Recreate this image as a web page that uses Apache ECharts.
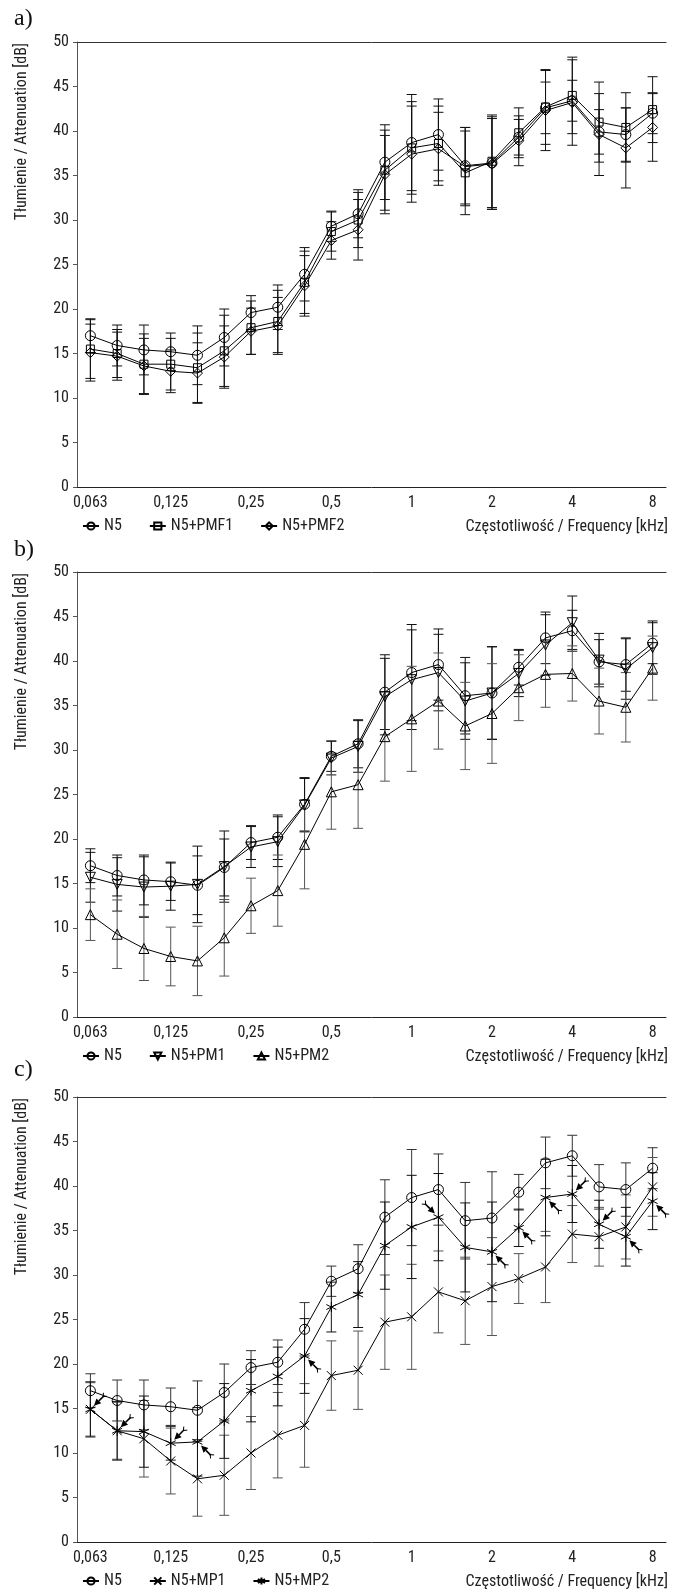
<!DOCTYPE html>
<html>
<head>
    <meta charset="utf-8">
    <title>Tłumienie / Attenuation</title>
    <script src="https://cdn.jsdelivr.net/npm/echarts@6/dist/echarts.min.js"></script>
    <style>
        html, body { margin: 0; padding: 0; background: #fff; }
        #chart { width: 676px; height: 1593px; }
    </style>
</head>
<body>
<div id="chart"></div>
<script>
    // 1/3-octave bands [kHz]; labels shown only at octaves
    var freqs = ['0,063', '0,08', '0,1', '0,125', '0,16', '0,2', '0,25', '0,315', '0,4', '0,5', '0,63',
        '0,8', '1', '1,25', '1,6', '2', '2,5', '3,15', '4', '5', '6,3', '8'];
    var tickIdx = [0, 3, 6, 9, 12, 15, 18, 21];

    // N5 (same in all three panels)
    var n5 = [17.0, 15.9, 15.4, 15.2, 14.8, 16.8, 19.6, 20.2, 23.9, 29.3, 30.7, 36.5, 38.7, 39.6, 36.1, 36.4, 39.3, 42.6, 43.4, 39.9, 39.6, 42.0];
    var n5Err = [1.9, 2.3, 2.8, 2.1, 3.3, 3.2, 1.9, 2.5, 3.0, 1.7, 2.7, 4.2, 5.4, 4.0, 4.3, 5.2, 2.0, 2.9, 2.3, 2.5, 3.0, 2.3];

    // a)
    var pmf1 = [15.5, 15.0, 13.8, 13.8, 13.4, 15.3, 17.9, 18.6, 23.0, 28.7, 30.0, 35.6, 38.1, 38.6, 35.3, 36.6, 39.8, 42.7, 44.0, 41.0, 40.4, 42.4];
    var pmf1Err = [3.3, 2.7, 3.4, 2.9, 3.9, 4.0, 3.0, 3.5, 3.5, 2.2, 3.1, 4.5, 5.2, 4.2, 4.7, 5.2, 2.8, 4.2, 4.3, 4.5, 3.9, 3.7];
    var pmf2 = [15.1, 14.7, 13.6, 13.0, 12.8, 14.6, 17.5, 18.1, 22.6, 27.7, 28.9, 35.1, 37.4, 38.0, 36.0, 36.3, 38.9, 42.3, 43.2, 39.6, 38.1, 40.4];
    var pmf2Err = [3.2, 2.7, 3.1, 2.4, 3.4, 3.5, 2.6, 3.2, 3.4, 2.1, 3.4, 4.4, 5.4, 4.1, 4.4, 5.1, 2.8, 4.5, 4.8, 4.6, 4.5, 3.8];

    // b)
    var pm1 = [15.7, 14.9, 14.6, 14.7, 14.9, 16.9, 19.1, 19.7, 23.8, 29.1, 30.4, 36.0, 37.9, 38.7, 35.5, 36.4, 38.6, 41.8, 44.3, 40.1, 39.1, 41.5];
    var pm1Err = [2.8, 3.0, 3.4, 2.7, 4.3, 4.0, 2.3, 2.8, 3.0, 1.9, 2.9, 4.3, 5.6, 4.3, 4.3, 5.2, 2.6, 3.4, 3.0, 3.0, 3.4, 3.0];
    var pm2 = [11.5, 9.3, 7.7, 6.8, 6.3, 8.9, 12.5, 14.2, 19.4, 25.3, 26.1, 31.5, 33.5, 35.5, 32.7, 34.1, 37.0, 38.5, 38.6, 35.5, 34.8, 39.2];
    var pm2Err = [2.9, 3.85, 3.6, 3.3, 3.9, 4.3, 3.1, 4.0, 5.0, 4.2, 4.9, 5.0, 5.9, 5.4, 4.9, 5.6, 3.7, 3.7, 3.1, 3.7, 3.9, 3.6];

    // c)
    var mp1 = [14.9, 12.5, 11.6, 9.1, 7.1, 7.5, 10.0, 12.0, 13.1, 18.7, 19.3, 24.7, 25.3, 28.1, 27.1, 28.7, 29.6, 30.9, 34.6, 34.3, 35.4, 39.9];
    var mp1Err = [3.0, 3.2, 4.3, 3.7, 4.2, 4.5, 4.1, 4.8, 4.7, 3.9, 4.4, 5.3, 5.9, 4.6, 4.9, 5.5, 2.8, 4.0, 3.2, 3.3, 3.6, 3.3];
    var mp2 = [14.9, 12.5, 12.4, 11.1, 11.25, 13.6, 17.0, 18.6, 20.9, 26.4, 27.8, 33.3, 35.4, 36.5, 33.1, 32.6, 35.3, 38.7, 39.1, 35.7, 34.3, 38.3];
    var mp2Err = [3.1, 3.3, 4.0, 1.9, 3.85, 4.2, 3.5, 3.3, 4.2, 2.8, 3.7, 4.9, 5.8, 4.9, 5.0, 5.6, 2.1, 4.3, 3.2, 2.7, 3.3, 3.2];
    // points of N5+MP2 marked with an arrow
    var arrowIdx = [0, 1, 3, 4, 8, 13, 15, 16, 17, 18, 19, 20, 21];

    var NARROW = 'Liberation Sans Narrow, Roboto Condensed, DejaVu Sans Condensed, sans-serif';
    var SERIF = 'Liberation Serif, DejaVu Serif, serif';
    var gridTops = [42, 572, 1097];
    var gridH = 445;

    var chart = echarts.init(document.getElementById('chart'));

    var SYM_X = 'path://M0,0L10,10M10,0L0,10';
    var SYM_STAR = 'path://M5,0L5,10M0.7,2.5L9.3,7.5M9.3,2.5L0.7,7.5';

    function lineSeries(name, vals, k, symbol, size, rotate) {
        return {
            type: 'line', name: name, xAxisIndex: 2 * k, yAxisIndex: k, z: 3,
            data: vals.slice(),
            symbol: symbol, symbolSize: size, symbolRotate: rotate || 0, showSymbol: true,
            lineStyle: {color: '#000', width: 1},
            itemStyle: {color: 'rgba(255,255,255,0)', borderColor: '#000', borderWidth: 1}
        };
    }

    function errSeries(vals, errs, k, color) {
        return {
            type: 'custom', xAxisIndex: 2 * k, yAxisIndex: k, z: 2, silent: true,
            data: vals.map(function (v, i) { return [i, v - errs[i], v + errs[i]]; }),
            renderItem: function (params, api) {
                var x = api.value(0);
                var lo = api.coord([x, api.value(1)]);
                var hi = api.coord([x, api.value(2)]);
                var w = 5;
                return {
                    type: 'group', children: [
                        {type: 'line', shape: {x1: lo[0], y1: lo[1], x2: hi[0], y2: hi[1]}, style: {stroke: color, lineWidth: 1}},
                        {type: 'line', shape: {x1: lo[0] - w, y1: lo[1], x2: lo[0] + w, y2: lo[1]}, style: {stroke: color, lineWidth: 1}},
                        {type: 'line', shape: {x1: hi[0] - w, y1: hi[1], x2: hi[0] + w, y2: hi[1]}, style: {stroke: color, lineWidth: 1}}
                    ]
                };
            }
        };
    }

    // arrow tail direction from the marker
    var arrowDir = {0: 'ne', 1: 'ne', 3: 'ne', 4: 'se', 8: 'se', 13: 'nw', 15: 'se', 16: 'se',
        17: 'se', 18: 'ne', 19: 'ne', 20: 'se', 21: 'se'};
    var dirVec = {ne: [1, -1], se: [1, 1], nw: [-1, -1]};

    function arrowSeries(k) {
        return {
            type: 'custom', xAxisIndex: 2 * k, yAxisIndex: k, z: 4, silent: true,
            data: arrowIdx.map(function (i) { return [i, mp2[i]]; }),
            renderItem: function (params, api) {
                var i = api.value(0);
                var p = api.coord([i, api.value(1)]);
                var d = dirVec[arrowDir[i]];
                var ux = d[0] / Math.SQRT2, uy = d[1] / Math.SQRT2;
                var nx = -uy, ny = ux;
                var bx = p[0] + ux * 12, by = p[1] + uy * 12;
                var tx = p[0] + ux * 19, ty = p[1] + uy * 19;
                return {
                    type: 'group', children: [
                        {type: 'line', shape: {x1: tx, y1: ty, x2: bx, y2: by}, style: {stroke: '#000', lineWidth: 1.6}},
                        {type: 'polygon', shape: {points: [[p[0] + ux * 5, p[1] + uy * 5],
                                [bx + nx * 3.4, by + ny * 3.4], [bx - nx * 3.4, by - ny * 3.4]]},
                            style: {fill: '#000'}},
                        {type: 'line', shape: {x1: tx + nx * 2.5 + ux * 2, y1: ty + ny * 2.5 + uy * 2, x2: tx - ux, y2: ty - uy},
                            style: {stroke: '#000', lineWidth: 1}},
                        {type: 'line', shape: {x1: tx - nx * 2.5 + ux * 2, y1: ty - ny * 2.5 + uy * 2, x2: tx - ux, y2: ty - uy},
                            style: {stroke: '#000', lineWidth: 1}}
                    ]
                };
            }
        };
    }

    var grids = [], xAxes = [], yAxes = [], legends = [], graphics = [];
    var panelNames = [['N5', 'N5+PMF1', 'N5+PMF2'], ['N5', 'N5+PM1', 'N5+PM2'], ['N5', 'N5+MP1', 'N5+MP2']];
    var panelTags = ['a)', 'b)', 'c)'];
    var tagY = [19, 550, 1070];

    for (var k = 0; k < 3; k++) {
        var gTop = gridTops[k];
        grids.push({left: 77, width: 589, top: gTop, height: gridH});
        xAxes.push({
            type: 'category', gridIndex: k, position: 'bottom', data: freqs,
            axisLine: {lineStyle: {color: '#222'}},
            axisTick: {alignWithLabel: true, interval: 0, length: 4, lineStyle: {color: '#222'}},
            axisLabel: {interval: 0, margin: 8, fontSize: 16, color: '#222',
                formatter: function (v, idx) { return tickIdx.indexOf(idx) >= 0 ? v : ''; }}
        });
        xAxes.push({
            type: 'category', gridIndex: k, position: 'top', data: freqs,
            axisLine: {lineStyle: {color: '#333'}},
            axisTick: {show: false}, axisLabel: {show: false}
        });
        yAxes.push({
            type: 'value', gridIndex: k, min: 0, max: 50, interval: 5,
            axisLine: {show: true, lineStyle: {color: '#555'}},
            axisTick: {show: true, length: 4, lineStyle: {color: '#555'}},
            axisLabel: {margin: 8, fontSize: 16, color: '#222'},
            splitLine: {show: false}
        });
        legends.push({
            top: gTop + gridH + 26, left: 77, itemWidth: 16, itemHeight: 9, itemGap: 27,
            selectedMode: false, data: panelNames[k].slice(),
            textStyle: {fontSize: 16, color: '#222'}
        });
        graphics.push({
            type: 'text', x: 668, y: gTop + gridH + 40,
            style: {text: 'Częstotliwość / Frequency [kHz]', align: 'right', verticalAlign: 'middle',
                fontSize: 16, fontFamily: NARROW, fill: '#222'}
        });
        graphics.push({
            type: 'text', x: 22, y: gTop + 1, rotation: Math.PI / 2,
            style: {text: 'Tłumienie / Attenuation [dB]', align: 'right', verticalAlign: 'middle',
                fontSize: 16, fontFamily: NARROW, fill: '#222'}
        });
        graphics.push({
            type: 'text', x: 14, y: tagY[k],
            style: {text: panelTags[k], align: 'left', verticalAlign: 'middle',
                fontSize: 24, fontFamily: SERIF, fill: '#111'}
        });
    }

    var series = [
        errSeries(n5, n5Err, 0, '#111'),
        errSeries(pmf1, pmf1Err, 0, '#111'),
        errSeries(pmf2, pmf2Err, 0, '#111'),
        lineSeries('N5', n5, 0, 'circle', 10),
        lineSeries('N5+PMF1', pmf1, 0, 'rect', 8),
        lineSeries('N5+PMF2', pmf2, 0, 'diamond', 10),

        errSeries(n5, n5Err, 1, '#111'),
        errSeries(pm1, pm1Err, 1, '#111'),
        errSeries(pm2, pm2Err, 1, '#555'),
        lineSeries('N5', n5, 1, 'circle', 10),
        lineSeries('N5+PM1', pm1, 1, 'triangle', 10, 180),
        lineSeries('N5+PM2', pm2, 1, 'triangle', 10),

        errSeries(n5, n5Err, 2, '#333'),
        errSeries(mp1, mp1Err, 2, '#555'),
        errSeries(mp2, mp2Err, 2, '#111'),
        lineSeries('N5', n5, 2, 'circle', 10),
        lineSeries('N5+MP1', mp1, 2, SYM_X, 9),
        lineSeries('N5+MP2', mp2, 2, SYM_STAR, 10),
        arrowSeries(2)
    ];

    chart.setOption({
        animation: false,
        backgroundColor: '#fff',
        textStyle: {fontFamily: NARROW},
        grid: grids,
        xAxis: xAxes,
        yAxis: yAxes,
        legend: legends,
        graphic: graphics,
        series: series
    });

    window.onresize = function () {
        chart.resize();
    };
</script>
</body>
</html>
